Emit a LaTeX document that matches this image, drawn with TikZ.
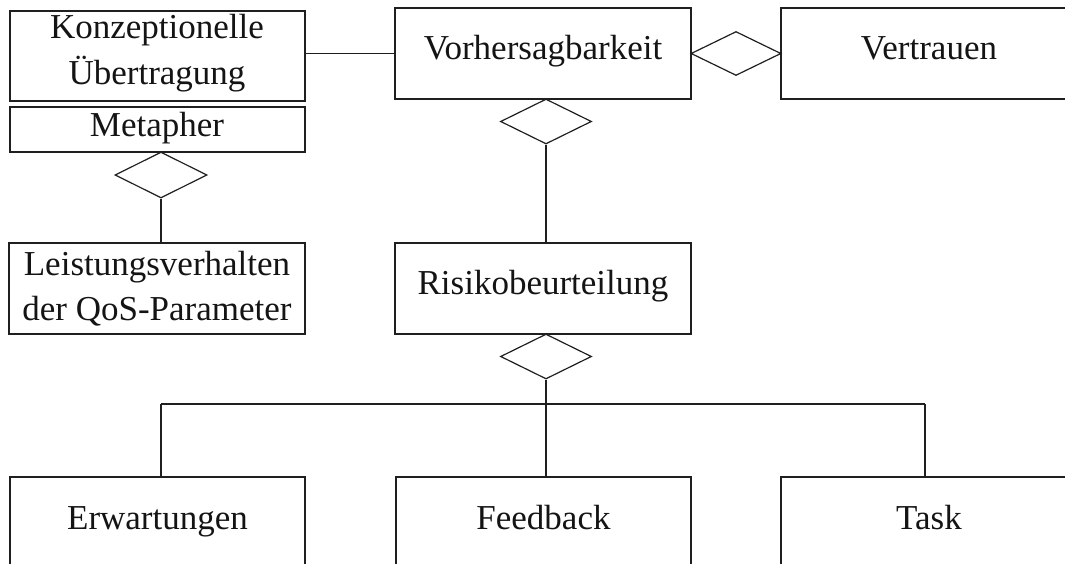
\documentclass[tikz,border=0pt]{standalone}
\usepackage{fontspec}
\setmainfont{Liberation Serif}
\usetikzlibrary{shapes.geometric}
\begin{document}
\begin{tikzpicture}[x=1pt,y=-1pt, line width=1.2pt, color=black!88,
  ebox/.style={draw, rectangle, inner sep=0pt, minimum width=296pt, minimum height=91pt},
  mbox/.style={draw, rectangle, inner sep=0pt, minimum width=295pt, minimum height=45pt},
  rel/.style={draw, diamond, inner sep=0pt, minimum width=91pt, minimum height=45pt},
  lbl/.style={font=\fontsize{35}{45}\selectfont, anchor=base, inner sep=0pt, text=black!92}]
\useasboundingbox (0,0) rectangle (1065,564);
\clip (0,0) rectangle (1065,564);

% entity boxes
\node[ebox, minimum width=295pt, minimum height=90pt] (konz) at (157.5,56) {};
\node[mbox] (meta) at (157.5,129.5) {};
\node[ebox] (leist) at (157,288.5) {};
\node[ebox] (vorh) at (543,53.5) {};
\node[ebox] (vert) at (929,53.5) {};
\node[ebox] (risk) at (543,288.5) {};
\node[ebox, minimum width=295pt] (erw) at (157.5,522.5) {};
\node[ebox, minimum width=295pt] (feed) at (543.5,522.5) {};
\node[ebox] (task) at (929,522.5) {};

% relationship diamonds
\node[rel, minimum width=92pt, minimum height=46pt] (rmeta) at (161,175) {};
\node[rel, minimum width=90pt, minimum height=44pt] (rvert) at (736,53.5) {};
\node[rel] (rvorh) at (546,121.5) {};
\node[rel] (rrisk) at (546,356.5) {};

% labels
\node[lbl] (tkonz1) at (157,39) {Konzeptionelle};
\node[lbl] (tkonz2) at (157,85) {Übertragung};
\node[lbl] (tmeta) at (157,137) {Metapher};
\node[lbl] (tleist1) at (157,275) {Leistungsverhalten};
\node[lbl] (tleist2) at (157,320) {der QoS-Parameter};
\node[lbl] (tvorh) at (543,60) {Vorhersagbarkeit};
\node[lbl] (tvert) at (929,60) {Vertrauen};
\node[lbl] (trisk) at (543,294) {Risikobeurteilung};
\node[lbl] (terw) at (157.5,529) {Erwartungen};
\node[lbl] (tfeed) at (543.5,529) {Feedback};
\node[lbl] (ttask) at (929,529) {Task};

% connectors
\draw (vorh.west) -- (vorh.west -| konz.east);
\draw (rmeta.south) -- (rmeta.south |- leist.north);
\draw (rvorh.south) -- (rvorh.south |- risk.north);
\coordinate (bus) at (546,404);
\coordinate (busL) at (161,404);
\coordinate (busR) at (925,404);
\draw (rrisk.south) -- (bus);
\draw (busL) -- (busR);
\draw (busL) -- (busL |- erw.north);
\draw (bus) -- (bus |- feed.north);
\draw (busR) -- (busR |- task.north);
\end{tikzpicture}
\end{document}
